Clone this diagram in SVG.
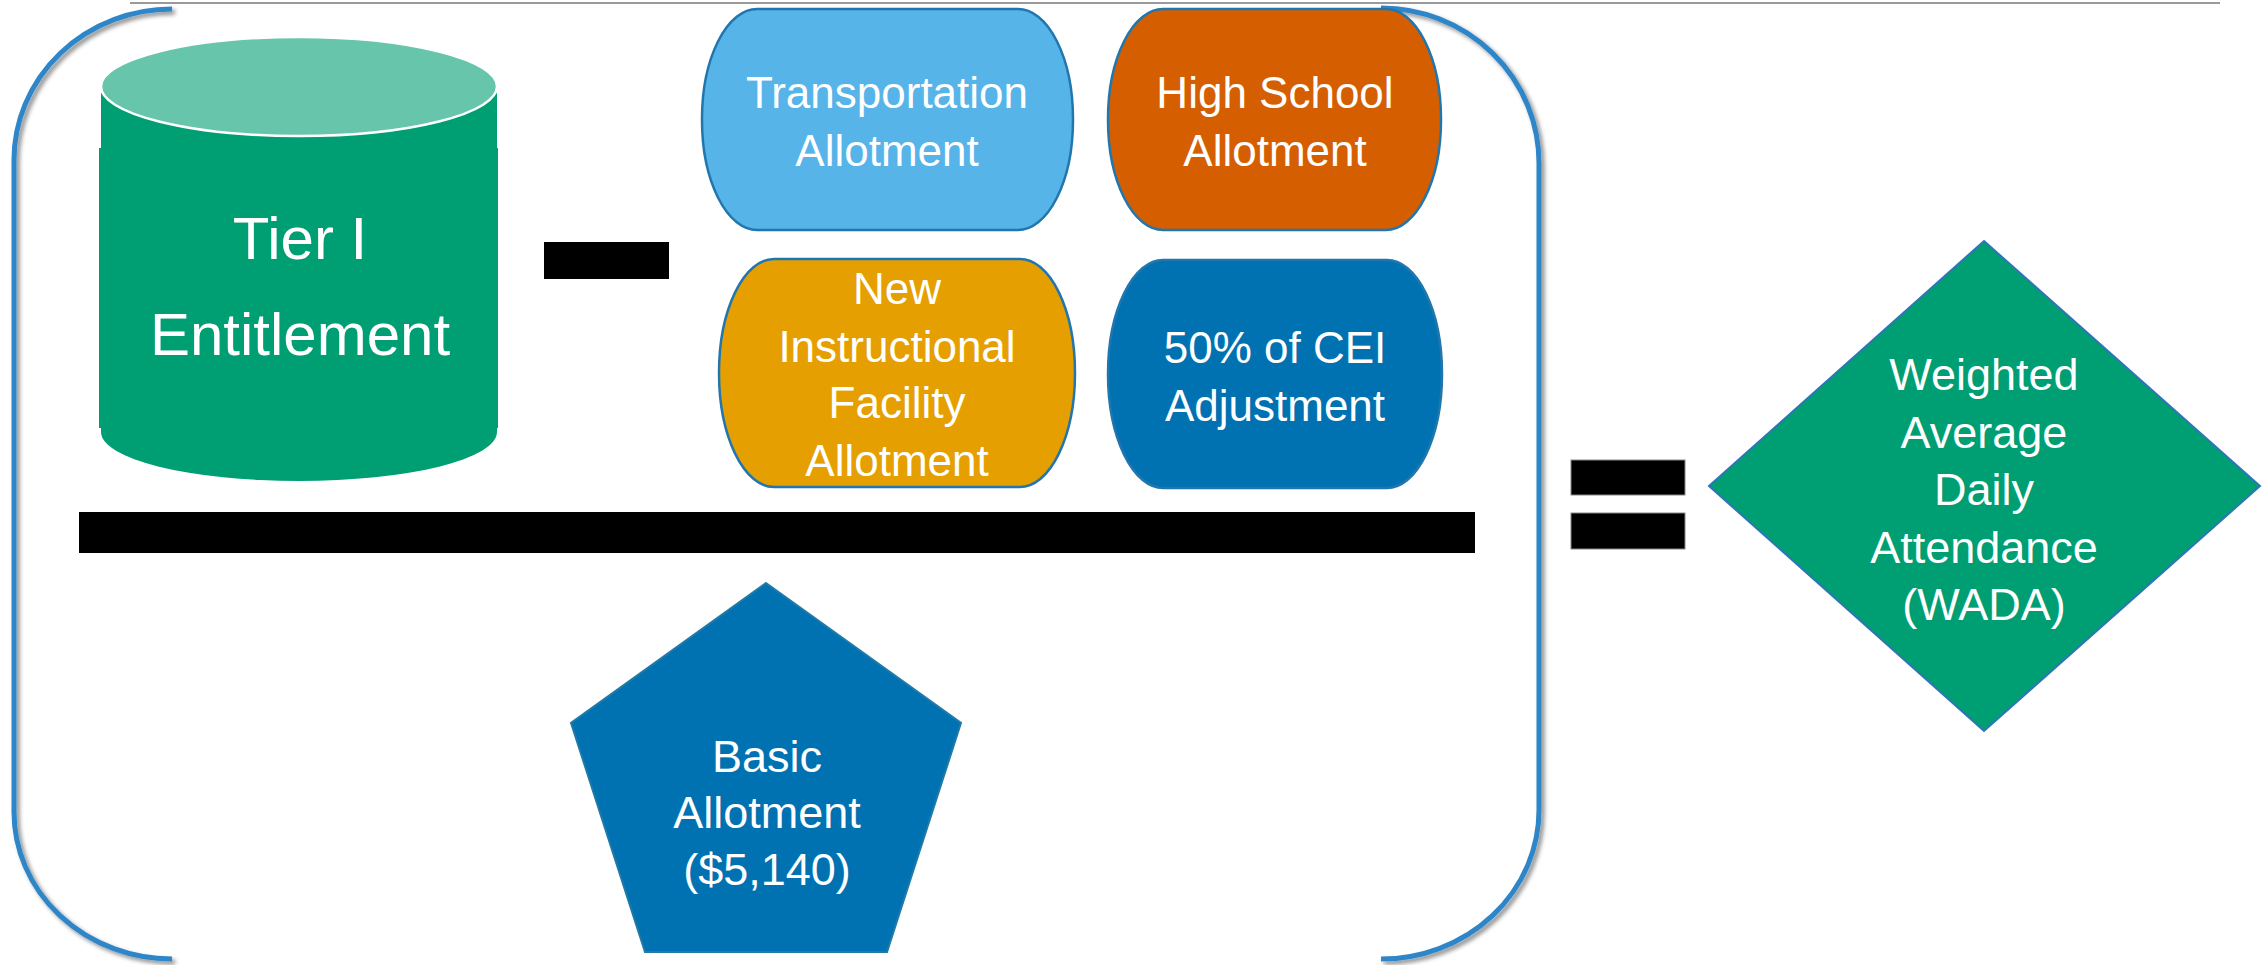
<svg xmlns="http://www.w3.org/2000/svg" width="2267" height="965" viewBox="0 0 2267 965">
<defs>
<filter id="sh" x="-10%" y="-10%" width="120%" height="120%">
<feDropShadow dx="3" dy="3" stdDeviation="2" flood-color="#000" flood-opacity="0.45"/>
</filter>
</defs>
<style>
.t{font-family:"Liberation Sans",Arial,sans-serif;fill:#fff;text-anchor:middle}
.f44{font-size:44px}
.f45{font-size:45px}
.f60{font-size:60px}
.br{fill:none;stroke:#2E86C8;stroke-width:5}
.rs{stroke:#2176AE;stroke-width:2.5}
.bar{fill:#000}
</style>
<rect width="2267" height="965" fill="#fff"/>
<line x1="130" y1="3" x2="2220" y2="3" stroke="#9a9a9a" stroke-width="2"/>

<g id="container">
<path class="br" filter="url(#sh)" d="M172,9 A158,151 0 0 0 14,160 L14,812 A158,147 0 0 0 172,959"/>
<path class="br" filter="url(#sh)" d="M1381,8 A158,155 0 0 1 1539,163 L1539,810 A158,149 0 0 1 1381,959"/>
</g>

<g id="tier1">
<path d="M101,86.5 L101,432 A198,49 0 0 0 497,432 L497,86.5 Z" fill="#009E73"/>
<rect x="99" y="148" width="399" height="280" fill="#009E73"/>
<ellipse cx="299" cy="86.5" rx="198" ry="49.5" fill="#66C5AB" stroke="#fff" stroke-width="2.5"/>
<text class="t f60" x="300" y="259">Tier I</text>
<text class="t f60" x="300" y="355">Entitlement</text>
</g>

<g id="minus"><rect class="bar" x="544" y="242" width="125" height="37"/></g>

<g id="transportation">
<rect class="rs" x="702" y="9" width="371" height="221" rx="55" ry="110" fill="#56B4E9"/>
<text class="t f44" x="887" y="108">Transportation</text>
<text class="t f44" x="887" y="166">Allotment</text>
</g>

<g id="highschool">
<rect class="rs" x="1108" y="9" width="333" height="221" rx="55" ry="110" fill="#D55E00"/>
<text class="t f44" x="1275" y="108">High School</text>
<text class="t f44" x="1275" y="166">Allotment</text>
</g>

<g id="nifa">
<rect class="rs" x="719" y="259" width="356" height="228" rx="55" ry="114" fill="#E69F00"/>
<text class="t f44" x="897" y="304">New</text>
<text class="t f44" x="897" y="362">Instructional</text>
<text class="t f44" x="897" y="418">Facility</text>
<text class="t f44" x="897" y="476">Allotment</text>
</g>

<g id="cei">
<rect class="rs" x="1108" y="260" width="334" height="228" rx="55" ry="114" fill="#0072B2"/>
<text class="t f44" x="1275" y="363">50% of CEI</text>
<text class="t f44" x="1275" y="421">Adjustment</text>
</g>

<g id="fraction"><rect class="bar" x="79" y="512" width="1396" height="41"/></g>

<g id="basic">
<polygon points="766,583 961,723 887,952 645,952 571,723" fill="#0072B2" stroke="#1F7AA8" stroke-width="2"/>
<text class="t f45" x="767" y="772">Basic</text>
<text class="t f45" x="767" y="828">Allotment</text>
<text class="t f45" x="767" y="885">($5,140)</text>
</g>

<g id="equals">
<rect class="bar" x="1571" y="460" width="114" height="35" stroke="#888" stroke-width="1"/>
<rect class="bar" x="1571" y="513" width="114" height="36" stroke="#888" stroke-width="1"/>
</g>

<g id="wada">
<polygon points="1984,241 2260,486 1984,731 1709,486" fill="#009E73" stroke="#2E75B6" stroke-width="2"/>
<text class="t f45" x="1984" y="390">Weighted</text>
<text class="t f45" x="1984" y="448">Average</text>
<text class="t f45" x="1984" y="505">Daily</text>
<text class="t f45" x="1984" y="563">Attendance</text>
<text class="t f45" x="1984" y="620">(WADA)</text>
</g>
</svg>
